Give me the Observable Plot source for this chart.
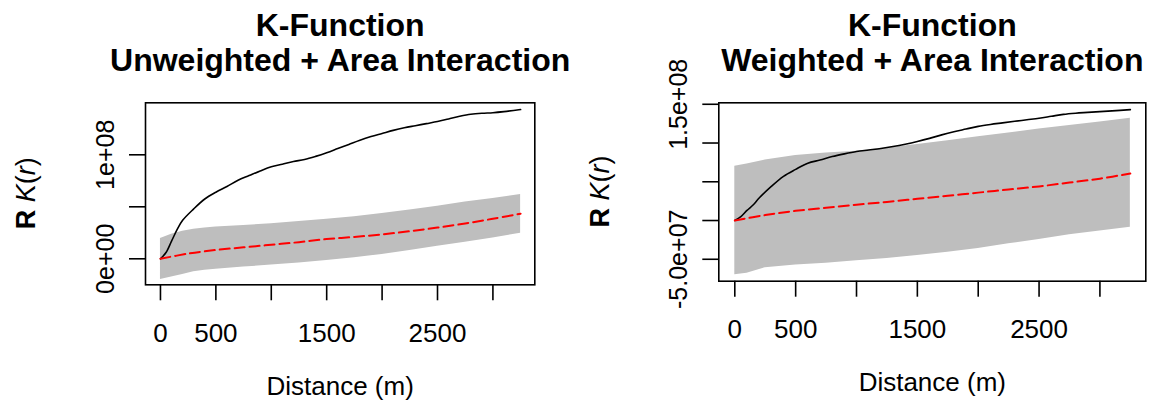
<!DOCTYPE html>
<html>
<head>
<meta charset="utf-8">
<script src="https://cdn.jsdelivr.net/npm/d3@7"></script>
<script src="https://cdn.jsdelivr.net/npm/@observablehq/plot@0.6"></script>
<style>
  html, body { margin: 0; padding: 0; background: #fff; }
  #wrap { display: flex; width: 1151px; height: 406px; overflow: hidden; }
  svg { overflow: visible; }
</style>
</head>
<body>
<div id="wrap"></div>
<script>
// ---------- Data (K values in units of 1e8) ----------
const titles = ["K-Function\nUnweighted + Area Interaction", "K-Function\nWeighted + Area Interaction"];
const xLabel = "Distance (m)";
const xTicks = [0, 500, 1000, 1500, 2000, 2500, 3000];
const xTickLabels = ["0", "500", "", "1500", "", "2500", ""];

// Left panel: unweighted
const rObsL = [0, 50, 100, 150, 200, 300, 400, 500, 600, 700, 800, 900, 1000, 1100, 1200, 1300, 1400, 1500, 1600, 1700, 1800, 1900, 2000, 2100, 2200, 2300, 2400, 2500, 2600, 2700, 2800, 2900, 3000, 3100, 3250];
const obsL  = [0, 0.06, 0.17, 0.28, 0.37, 0.48, 0.575, 0.64, 0.695, 0.755, 0.80, 0.845, 0.885, 0.91, 0.935, 0.955, 0.985, 1.02, 1.06, 1.10, 1.14, 1.175, 1.205, 1.235, 1.26, 1.28, 1.30, 1.32, 1.345, 1.37, 1.39, 1.40, 1.405, 1.415, 1.435];
const rEnvL = [0, 100, 200, 300, 400, 500, 750, 1000, 1250, 1500, 1750, 2000, 2250, 2500, 2750, 3000, 3250];
const hiL   = [0.194, 0.235, 0.265, 0.285, 0.295, 0.305, 0.32, 0.338, 0.358, 0.38, 0.405, 0.435, 0.47, 0.505, 0.545, 0.58, 0.618];
const loL   = [-0.2, -0.175, -0.15, -0.125, -0.11, -0.1, -0.08, -0.06, -0.04, -0.016, 0.01, 0.042, 0.08, 0.12, 0.16, 0.2, 0.246];
const rTheoL = [0, 250, 500, 750, 1000, 1250, 1500, 1750, 2000, 2250, 2500, 2750, 3000, 3250];
const theoL  = [0, 0.05, 0.085, 0.11, 0.135, 0.16, 0.19, 0.21, 0.235, 0.265, 0.30, 0.34, 0.385, 0.433];
const yTicksL = [0, 0.5e8, 1e8];
const yTickLabelsL = ["0e+00", "", "1e+08"];

// Right panel: weighted
const rObsR = [0, 50, 100, 150, 200, 300, 400, 500, 600, 700, 800, 900, 1000, 1100, 1200, 1300, 1400, 1500, 1600, 1700, 1800, 1900, 2000, 2100, 2200, 2300, 2400, 2500, 2600, 2700, 2800, 2900, 3000, 3100, 3250];
const obsR  = [0, 0.05, 0.13, 0.2, 0.29, 0.44, 0.57, 0.66, 0.74, 0.78, 0.825, 0.86, 0.89, 0.91, 0.93, 0.955, 0.985, 1.02, 1.06, 1.105, 1.145, 1.18, 1.215, 1.24, 1.26, 1.28, 1.30, 1.32, 1.345, 1.37, 1.385, 1.395, 1.405, 1.415, 1.431];
const rEnvR = [0, 100, 250, 500, 750, 1000, 1250, 1500, 1750, 2000, 2250, 2500, 2750, 3000, 3250];
const hiR   = [0.70, 0.73, 0.78, 0.84, 0.87, 0.895, 0.935, 0.98, 1.03, 1.08, 1.13, 1.18, 1.225, 1.27, 1.32];
const loR   = [-0.70, -0.68, -0.61, -0.575, -0.55, -0.52, -0.49, -0.45, -0.41, -0.36, -0.30, -0.245, -0.185, -0.135, -0.086];
const rTheoR = [0, 250, 500, 750, 1000, 1250, 1500, 1750, 2000, 2250, 2500, 2750, 3000, 3250];
const theoR  = [0, 0.07, 0.125, 0.165, 0.205, 0.24, 0.28, 0.32, 0.36, 0.40, 0.44, 0.49, 0.54, 0.606];
const yTicksR = [-0.5e8, 0, 0.5e8, 1e8, 1.5e8];
const yTickLabelsR = ["-5.0e+07", "", "", "", "1.5e+08"];

// ---------- Build ----------
const E8 = 1e8;
const font = "'Liberation Sans', Arial, sans-serif";

function panel(cfg) {
  const obs = cfg.rObs.map((r, i) => ({r, v: cfg.obs[i] * E8}));
  const env = cfg.rEnv.map((r, i) => ({r, lo: cfg.lo[i] * E8, hi: cfg.hi[i] * E8}));
  const theo = cfg.rTheo.map((r, i) => ({r, v: cfg.theo[i] * E8}));
  const xt = xTicks.map((t, i) => ({t, s: xTickLabels[i]})).filter(d => d.s);
  const yt = cfg.yTicks.map((t, i) => ({t, s: cfg.yLabels[i]})).filter(d => d.s);
  const p = Plot.plot({
    width: 576, height: 406,
    marginLeft: cfg.ml, marginRight: cfg.mr, marginTop: cfg.mt, marginBottom: cfg.mb,
    style: {fontFamily: font, background: "transparent", overflow: "visible"},
    x: {domain: cfg.xDomain, axis: null},
    y: {domain: cfg.yDomain, axis: null},
    marks: [
      Plot.areaY(env, {x: "r", y1: "lo", y2: "hi", fill: "#bebebe"}),
      Plot.line(obs, {x: "r", y: "v", stroke: "black", strokeWidth: 1.6, curve: "catmull-rom"}),
      Plot.line(theo, {x: "r", y: "v", stroke: "#ff0000", strokeWidth: 2, strokeDasharray: "10,5", curve: "catmull-rom"}),
      Plot.frame({stroke: "black", strokeWidth: 1.6}),
      Plot.axisX({ticks: xTicks, tickSize: 16, tickFormat: () => "", strokeWidth: 1.6, label: null, anchor: "bottom"}),
      Plot.axisY({ticks: cfg.yTicks, tickSize: 16, tickFormat: () => "", strokeWidth: 1.6, label: null, anchor: "left"}),
      Plot.text(xt, {x: "t", text: "s", frameAnchor: "bottom", dy: 57, fontSize: 26, fill: "black"}),
      Plot.text(yt, {y: "t", text: "s", frameAnchor: "left", textAnchor: "middle", dx: cfg.ylabDx, rotate: -90, fontSize: 25, fill: "black"}),
      Plot.text([xLabel], {text: d => d, frameAnchor: "bottom", dy: 110, fontSize: 26, fill: "black"}),
      Plot.text([cfg.title], {text: d => d, frameAnchor: "top", lineAnchor: "bottom", dy: cfg.titleDy, fontSize: 32, fontWeight: "bold", lineHeight: 1.1, fill: "black"})
    ]
  });
  // y-axis title "R K(r)" with mixed styling
  const svg = d3.select(p);
  const t = svg.append("text")
    .attr("transform", `translate(${cfg.ylabX},${cfg.mt + (406 - cfg.mt - cfg.mb) / 2}) rotate(-90)`)
    .attr("text-anchor", "middle").attr("dominant-baseline", "middle")
    .attr("font-family", font).attr("font-size", 27).attr("fill", "black");
  t.append("tspan").attr("font-weight", "bold").text("R ");
  t.append("tspan").attr("font-style", "italic").text("K");
  t.append("tspan").text("(");
  t.append("tspan").attr("font-style", "italic").text("r");
  t.append("tspan").text(")");
  return p;
}

const wrap = document.getElementById("wrap");
wrap.append(panel({
  title: titles[0], rObs: rObsL, obs: obsL, rEnv: rEnvL, lo: loL, hi: hiL, rTheo: rTheoL, theo: theoL,
  yTicks: yTicksL, yLabels: yTickLabelsL,
  ml: 145, mr: 41.7, mt: 102.3, mb: 121.7,
  xDomain: [-135, 3378], yDomain: [-0.25e8, 1.5e8],
  ylabDx: -40, ylabX: 28, titleDy: -32
}));
wrap.append(panel({
  title: titles[1], rObs: rObsR, obs: obsR, rEnv: rEnvR, lo: loR, hi: hiR, rTheo: rTheoR, theo: theoR,
  yTicks: yTicksR, yLabels: yTickLabelsR,
  ml: 142.3, mr: 6.7, mt: 102.3, mb: 125.3,
  xDomain: [-131.5, 3377], yDomain: [-0.783e8, 1.519e8],
  ylabDx: -40, ylabX: 26, titleDy: -32
}));
</script>
</body>
</html>
